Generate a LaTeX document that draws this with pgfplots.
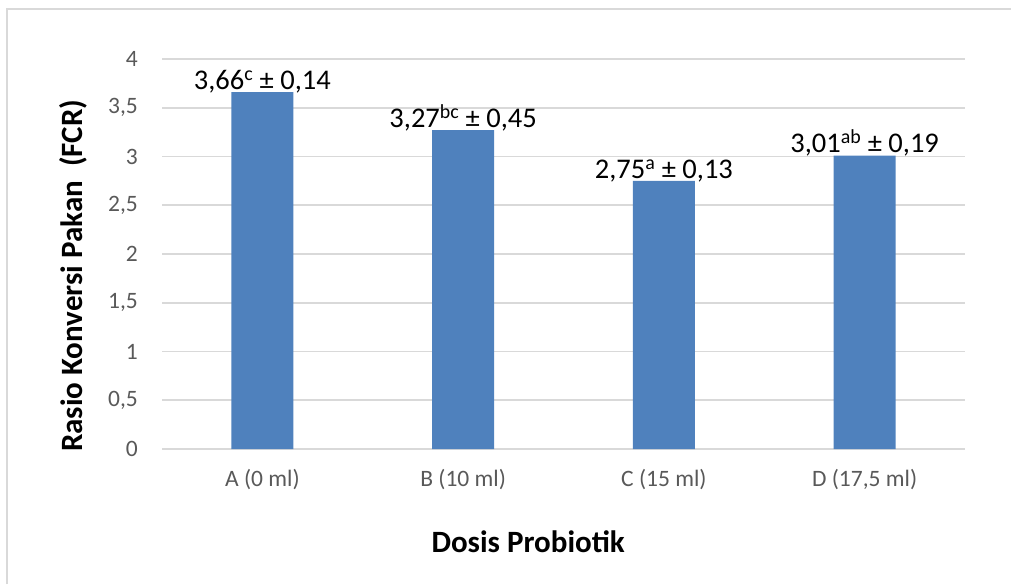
\documentclass[border=0pt]{standalone}
\usepackage{fontspec}
\setmainfont{Carlito}
\usepackage{pgfplots}
\pgfplotsset{compat=1.18}
\definecolor{barblue}{HTML}{4F81BD}
\definecolor{gridgray}{HTML}{D9D9D9}
\definecolor{ticktext}{HTML}{595959}
\begin{document}
\begin{tikzpicture}[x=1pt,y=1pt]
\useasboundingbox (0,0) rectangle (1011,584);
\draw[gridgray, line width=1.8pt] (7,0) -- (7,575) -- (1011,575);
\begin{axis}[
  at={(162pt,135pt)}, anchor=south west,
  scale only axis, width=803pt, height=390pt,
  xmin=-0.5, xmax=3.5, ymin=0, ymax=4,
  axis line style={draw=none},
  ytick={0,0.5,...,4},
  xtick={0,1,2,3},
  xticklabels={A (0 ml),B (10 ml),C (15 ml),{D (17,5 ml)}},
  major tick length=0pt,
  ymajorgrids,
  grid style={gridgray, line width=1.8pt},
  /pgf/number format/assume math mode=true,
  /pgf/number format/use comma,
  yticklabel style={font=\fontsize{23.5}{28}\selectfont, text=ticktext, inner sep=0pt, anchor=east, xshift=-24pt},
  xticklabel style={font=\fontsize{23.5}{28}\selectfont, text=ticktext, inner sep=0pt, anchor=north, yshift=-20pt},
  xlabel={Dosis Probiotik},
  xlabel style={font=\fontsize{31}{36}\selectfont\bfseries, at={(axis description cs:0.456,-0.238)}, anchor=center},
  ylabel={Rasio Konversi Pakan\ \ (FCR)},
  ylabel style={font=\fontsize{31}{36}\selectfont\bfseries, at={(axis description cs:-0.110,0.444)}, anchor=center, rotate=0},
  clip=false,
]
\addplot[ybar, bar width=62pt, fill=barblue, draw=none,
  point meta=explicit symbolic,
  nodes near coords,
  every node near coord/.style={font=\fontsize{28.5}{33}\selectfont, text=black, anchor=south, inner sep=0pt, yshift=-1pt}]
  coordinates {
    (0,3.66) [{3,66\textsuperscript{c} ± 0,14}]
    (1,3.27) [{3,27\textsuperscript{bc} ± 0,45}]
    (2,2.75) [{2,75\textsuperscript{a} ± 0,13}]
    (3,3.01) [{3,01\textsuperscript{ab} ± 0,19}]
  };
\end{axis}
\end{tikzpicture}
\end{document}
